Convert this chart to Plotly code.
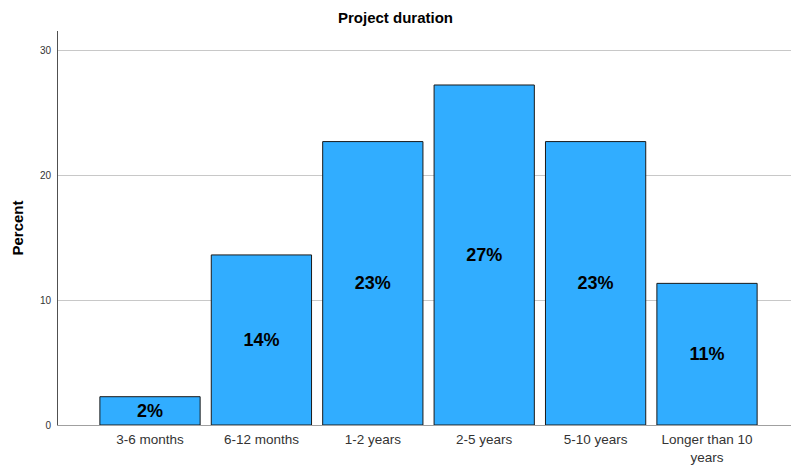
import plotly.graph_objects as go

categories = ["3-6 months", "6-12 months", "1-2 years", "2-5 years", "5-10 years", "Longer than 10<br>years"]
percent = [2.27, 13.64, 22.73, 27.27, 22.73, 11.36]
labels = [f"{round(v)}%" for v in percent]

fig = go.Figure(
    go.Bar(
        x=list(range(len(categories))),
        y=percent,
        text=labels,
        textposition="inside",
        insidetextanchor="middle",
        textangle=0,
        textfont=dict(family="Arial, Liberation Sans", size=18, color="black", weight="bold"),
        marker=dict(color="#31adff", line=dict(color="#1a1a1a", width=1)),
        width=0.9,
        hoverinfo="skip",
    )
)

fig.update_layout(
    width=791,
    height=466,
    margin=dict(l=58, r=0, t=31, b=41),
    paper_bgcolor="white",
    plot_bgcolor="white",
    showlegend=False,
    uniformtext=dict(minsize=18, mode="show"),
    title=dict(
        text="<b>Project duration</b>",
        x=0.5,
        xanchor="center",
        y=1 - 18 / 466,
        yanchor="middle",
        font=dict(family="Arial, Liberation Sans", size=15, color="black"),
    ),
    font=dict(family="Arial, Liberation Sans"),
)

fig.update_xaxes(
    range=[-0.826, 5.754],
    tickmode="array",
    tickvals=list(range(len(categories))),
    ticktext=categories,
    showgrid=False,
    showline=True,
    linecolor="#a0a0a0",
    linewidth=1,
    ticks="",
    ticklabelstandoff=2,
    tickfont=dict(size=13.5, color="#333333"),
    zeroline=False,
    automargin=False,
)

fig.update_yaxes(
    range=[0, 31.6],
    tickvals=[0, 10, 20, 30],
    showgrid=True,
    gridcolor="#c8c8c8",
    gridwidth=1,
    showline=True,
    linecolor="#505050",
    linewidth=1,
    ticks="",
    ticklabelstandoff=4,
    tickfont=dict(size=10, color="#333333"),
    zeroline=False,
    automargin=False,
    title=dict(text="<b>Percent</b>", font=dict(size=15, color="black"), standoff=12),
)

fig.write_html("out.html")
